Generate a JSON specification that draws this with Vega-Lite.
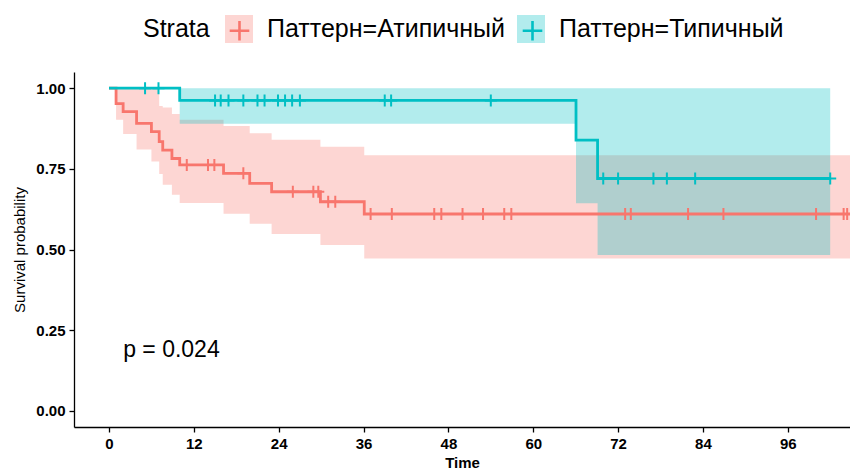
{
  "$schema": "https://vega.github.io/schema/vega-lite/v6.json",
  "width": 776,
  "height": 355,
  "autosize": "none",
  "padding": {"left": 74, "top": 72, "right": 0, "bottom": 45},
  "background": "white",
  "config": {
    "view": {"stroke": null},
    "font": "Liberation Sans",
    "axis": {
      "grid": false,
      "domainColor": "black",
      "tickColor": "black",
      "domainWidth": 1.3,
      "tickWidth": 1.3,
      "tickSize": 5,
      "labelColor": "black",
      "titleColor": "black",
      "labelFont": "Liberation Sans",
      "titleFont": "Liberation Sans",
      "labelFontSize": 15,
      "labelFontWeight": "bold",
      "titleFontSize": 15,
      "labelPadding": 4
    }
  },
  "datasets": {
    "curve": [
      {"strata": "Паттерн=Атипичный", "t": 0, "S": 1.0, "lower": 1.0, "upper": 1.0},
      {"strata": "Паттерн=Атипичный", "t": 1.0, "S": 0.952, "lower": 0.902, "upper": 1.0},
      {"strata": "Паттерн=Атипичный", "t": 2.0, "S": 0.927, "lower": 0.858, "upper": 1.0},
      {"strata": "Паттерн=Атипичный", "t": 3.9, "S": 0.891, "lower": 0.81, "upper": 1.0},
      {"strata": "Паттерн=Атипичный", "t": 6.0, "S": 0.865, "lower": 0.773, "upper": 1.0},
      {"strata": "Паттерн=Атипичный", "t": 7.1, "S": 0.834, "lower": 0.734, "upper": 0.945},
      {"strata": "Паттерн=Атипичный", "t": 7.6, "S": 0.808, "lower": 0.701, "upper": 0.94},
      {"strata": "Паттерн=Атипичный", "t": 8.9, "S": 0.782, "lower": 0.67, "upper": 0.92},
      {"strata": "Паттерн=Атипичный", "t": 10.0, "S": 0.762, "lower": 0.644, "upper": 0.902},
      {"strata": "Паттерн=Атипичный", "t": 16.2, "S": 0.736, "lower": 0.611, "upper": 0.883},
      {"strata": "Паттерн=Атипичный", "t": 19.9, "S": 0.705, "lower": 0.58, "upper": 0.86},
      {"strata": "Паттерн=Атипичный", "t": 23.0, "S": 0.679, "lower": 0.548, "upper": 0.84},
      {"strata": "Паттерн=Атипичный", "t": 29.9, "S": 0.648, "lower": 0.514, "upper": 0.818},
      {"strata": "Паттерн=Атипичный", "t": 36.1, "S": 0.61, "lower": 0.472, "upper": 0.792},
      {"strata": "Паттерн=Атипичный", "t": 105, "S": 0.61, "lower": 0.472, "upper": 0.792},
      {"strata": "Паттерн=Типичный", "t": 0, "S": 1.0, "lower": 1.0, "upper": 1.0},
      {"strata": "Паттерн=Типичный", "t": 10.0, "S": 0.962, "lower": 0.89, "upper": 1.0},
      {"strata": "Паттерн=Типичный", "t": 66.05, "S": 0.839, "lower": 0.643, "upper": 1.0},
      {"strata": "Паттерн=Типичный", "t": 69.1, "S": 0.72, "lower": 0.483, "upper": 1.0},
      {"strata": "Паттерн=Типичный", "t": 102.0, "S": 0.72, "lower": 0.483, "upper": 1.0}
    ],
    "censor": [
      {"strata": "Паттерн=Атипичный", "t": 11.0, "S": 0.762},
      {"strata": "Паттерн=Атипичный", "t": 14.0, "S": 0.762},
      {"strata": "Паттерн=Атипичный", "t": 14.9, "S": 0.762},
      {"strata": "Паттерн=Атипичный", "t": 19.0, "S": 0.736},
      {"strata": "Паттерн=Атипичный", "t": 26.0, "S": 0.679},
      {"strata": "Паттерн=Атипичный", "t": 28.9, "S": 0.679},
      {"strata": "Паттерн=Атипичный", "t": 29.6, "S": 0.679},
      {"strata": "Паттерн=Атипичный", "t": 31.0, "S": 0.648},
      {"strata": "Паттерн=Атипичный", "t": 32.0, "S": 0.648},
      {"strata": "Паттерн=Атипичный", "t": 37.0, "S": 0.61},
      {"strata": "Паттерн=Атипичный", "t": 40.0, "S": 0.61},
      {"strata": "Паттерн=Атипичный", "t": 46.0, "S": 0.61},
      {"strata": "Паттерн=Атипичный", "t": 47.0, "S": 0.61},
      {"strata": "Паттерн=Атипичный", "t": 50.0, "S": 0.61},
      {"strata": "Паттерн=Атипичный", "t": 52.9, "S": 0.61},
      {"strata": "Паттерн=Атипичный", "t": 55.9, "S": 0.61},
      {"strata": "Паттерн=Атипичный", "t": 56.9, "S": 0.61},
      {"strata": "Паттерн=Атипичный", "t": 73.0, "S": 0.61},
      {"strata": "Паттерн=Атипичный", "t": 73.8, "S": 0.61},
      {"strata": "Паттерн=Атипичный", "t": 81.9, "S": 0.61},
      {"strata": "Паттерн=Атипичный", "t": 86.9, "S": 0.61},
      {"strata": "Паттерн=Атипичный", "t": 100.0, "S": 0.61},
      {"strata": "Паттерн=Атипичный", "t": 103.9, "S": 0.61},
      {"strata": "Паттерн=Атипичный", "t": 104.4, "S": 0.61},
      {"strata": "Паттерн=Типичный", "t": 5.1, "S": 1.0},
      {"strata": "Паттерн=Типичный", "t": 7.0, "S": 1.0},
      {"strata": "Паттерн=Типичный", "t": 15.0, "S": 0.962},
      {"strata": "Паттерн=Типичный", "t": 15.8, "S": 0.962},
      {"strata": "Паттерн=Типичный", "t": 16.9, "S": 0.962},
      {"strata": "Паттерн=Типичный", "t": 19.0, "S": 0.962},
      {"strata": "Паттерн=Типичный", "t": 21.0, "S": 0.962},
      {"strata": "Паттерн=Типичный", "t": 22.0, "S": 0.962},
      {"strata": "Паттерн=Типичный", "t": 23.9, "S": 0.962},
      {"strata": "Паттерн=Типичный", "t": 24.9, "S": 0.962},
      {"strata": "Паттерн=Типичный", "t": 25.9, "S": 0.962},
      {"strata": "Паттерн=Типичный", "t": 27.0, "S": 0.962},
      {"strata": "Паттерн=Типичный", "t": 39.0, "S": 0.962},
      {"strata": "Паттерн=Типичный", "t": 39.9, "S": 0.962},
      {"strata": "Паттерн=Типичный", "t": 54.0, "S": 0.962},
      {"strata": "Паттерн=Типичный", "t": 69.9, "S": 0.72},
      {"strata": "Паттерн=Типичный", "t": 72.0, "S": 0.72},
      {"strata": "Паттерн=Типичный", "t": 77.0, "S": 0.72},
      {"strata": "Паттерн=Типичный", "t": 78.9, "S": 0.72},
      {"strata": "Паттерн=Типичный", "t": 82.9, "S": 0.72},
      {"strata": "Паттерн=Типичный", "t": 102.0, "S": 0.72}
    ],
    "pval": [
      {"t": 2.0, "S": 0.167, "label": "p = 0.024"}
    ]
  },
  "encoding": {
    "x": {
      "field": "t",
      "type": "quantitative",
      "scale": {"domain": [-4.95, 104.8], "nice": false, "zero": false},
      "axis": {"values": [0, 12, 24, 36, 48, 60, 72, 84, 96], "title": "Time", "titleFontWeight": "bold", "titlePadding": 4}
    }
  },
  "layer": [
    {
      "data": {"name": "curve"},
      "mark": {"type": "area", "interpolate": "step-after", "fillOpacity": 0.3, "clip": true},
      "encoding": {
        "y": {
          "field": "lower",
          "type": "quantitative",
          "scale": {"domain": [-0.05, 1.05], "nice": false, "zero": false},
          "axis": {"values": [0, 0.25, 0.5, 0.75, 1], "format": ".2f", "title": "Survival probability", "titleFontWeight": "normal", "titlePadding": 8}
        },
        "y2": {"field": "upper"},
        "fill": {
          "field": "strata",
          "type": "nominal",
          "scale": {"domain": ["Паттерн=Атипичный", "Паттерн=Типичный"], "range": ["#F8766D", "#00BFC4"]},
          "legend": {
            "title": "Strata",
            "orient": "none",
            "legendX": 69,
            "legendY": -57,
            "direction": "horizontal",
            "titleOrient": "left",
            "titleFontSize": 25,
            "titleFontWeight": "normal",
            "titleColor": "black",
            "titlePadding": 15,
            "labelFontSize": 25,
            "labelColor": "black",
            "labelLimit": 600,
            "symbolType": "square",
            "symbolSize": 784,
            "symbolOpacity": 0.3,
            "symbolStrokeWidth": 0,
            "labelOffset": 14,
            "columnPadding": 12,
            "padding": 0
          }
        }
      }
    },
    {
      "data": {"name": "curve"},
      "mark": {"type": "line", "interpolate": "step-after", "strokeWidth": 2.8, "clip": true},
      "encoding": {
        "y": {"field": "S", "type": "quantitative"},
        "stroke": {
          "field": "strata",
          "type": "nominal",
          "scale": {"range": ["#F8766D", "#00BFC4"]},
          "legend": {
            "title": null,
            "orient": "none",
            "legendX": 150,
            "legendY": -57,
            "direction": "horizontal",
            "symbolType": "M-0.7,0H0.7M0,-0.7V0.7",
            "symbolSize": 784,
            "symbolStrokeWidth": 2.6,
            "labelExpr": "''",
            "labelOffset": 0,
            "columnPadding": 262,
            "padding": 0
          }
        }
      }
    },
    {
      "data": {"name": "censor"},
      "mark": {"type": "point", "shape": "M0,-1V1M-1,0H1", "filled": false, "size": 144, "strokeWidth": 2, "opacity": 1, "clip": true},
      "encoding": {
        "y": {"field": "S", "type": "quantitative"},
        "stroke": {
          "field": "strata",
          "type": "nominal",
          "legend": {
            "title": null,
            "orient": "none",
            "legendX": 150,
            "legendY": -57,
            "direction": "horizontal",
            "symbolType": "M-0.7,0H0.7M0,-0.7V0.7",
            "symbolSize": 784,
            "symbolStrokeWidth": 2.6,
            "labelExpr": "''",
            "labelOffset": 0,
            "columnPadding": 262,
            "padding": 0
          }
        }
      }
    },
    {
      "data": {"name": "pval"},
      "mark": {"type": "text", "align": "left", "baseline": "alphabetic", "fontSize": 23, "font": "Liberation Sans", "color": "black"},
      "encoding": {
        "y": {"field": "S", "type": "quantitative"},
        "text": {"field": "label"}
      }
    }
  ]
}
